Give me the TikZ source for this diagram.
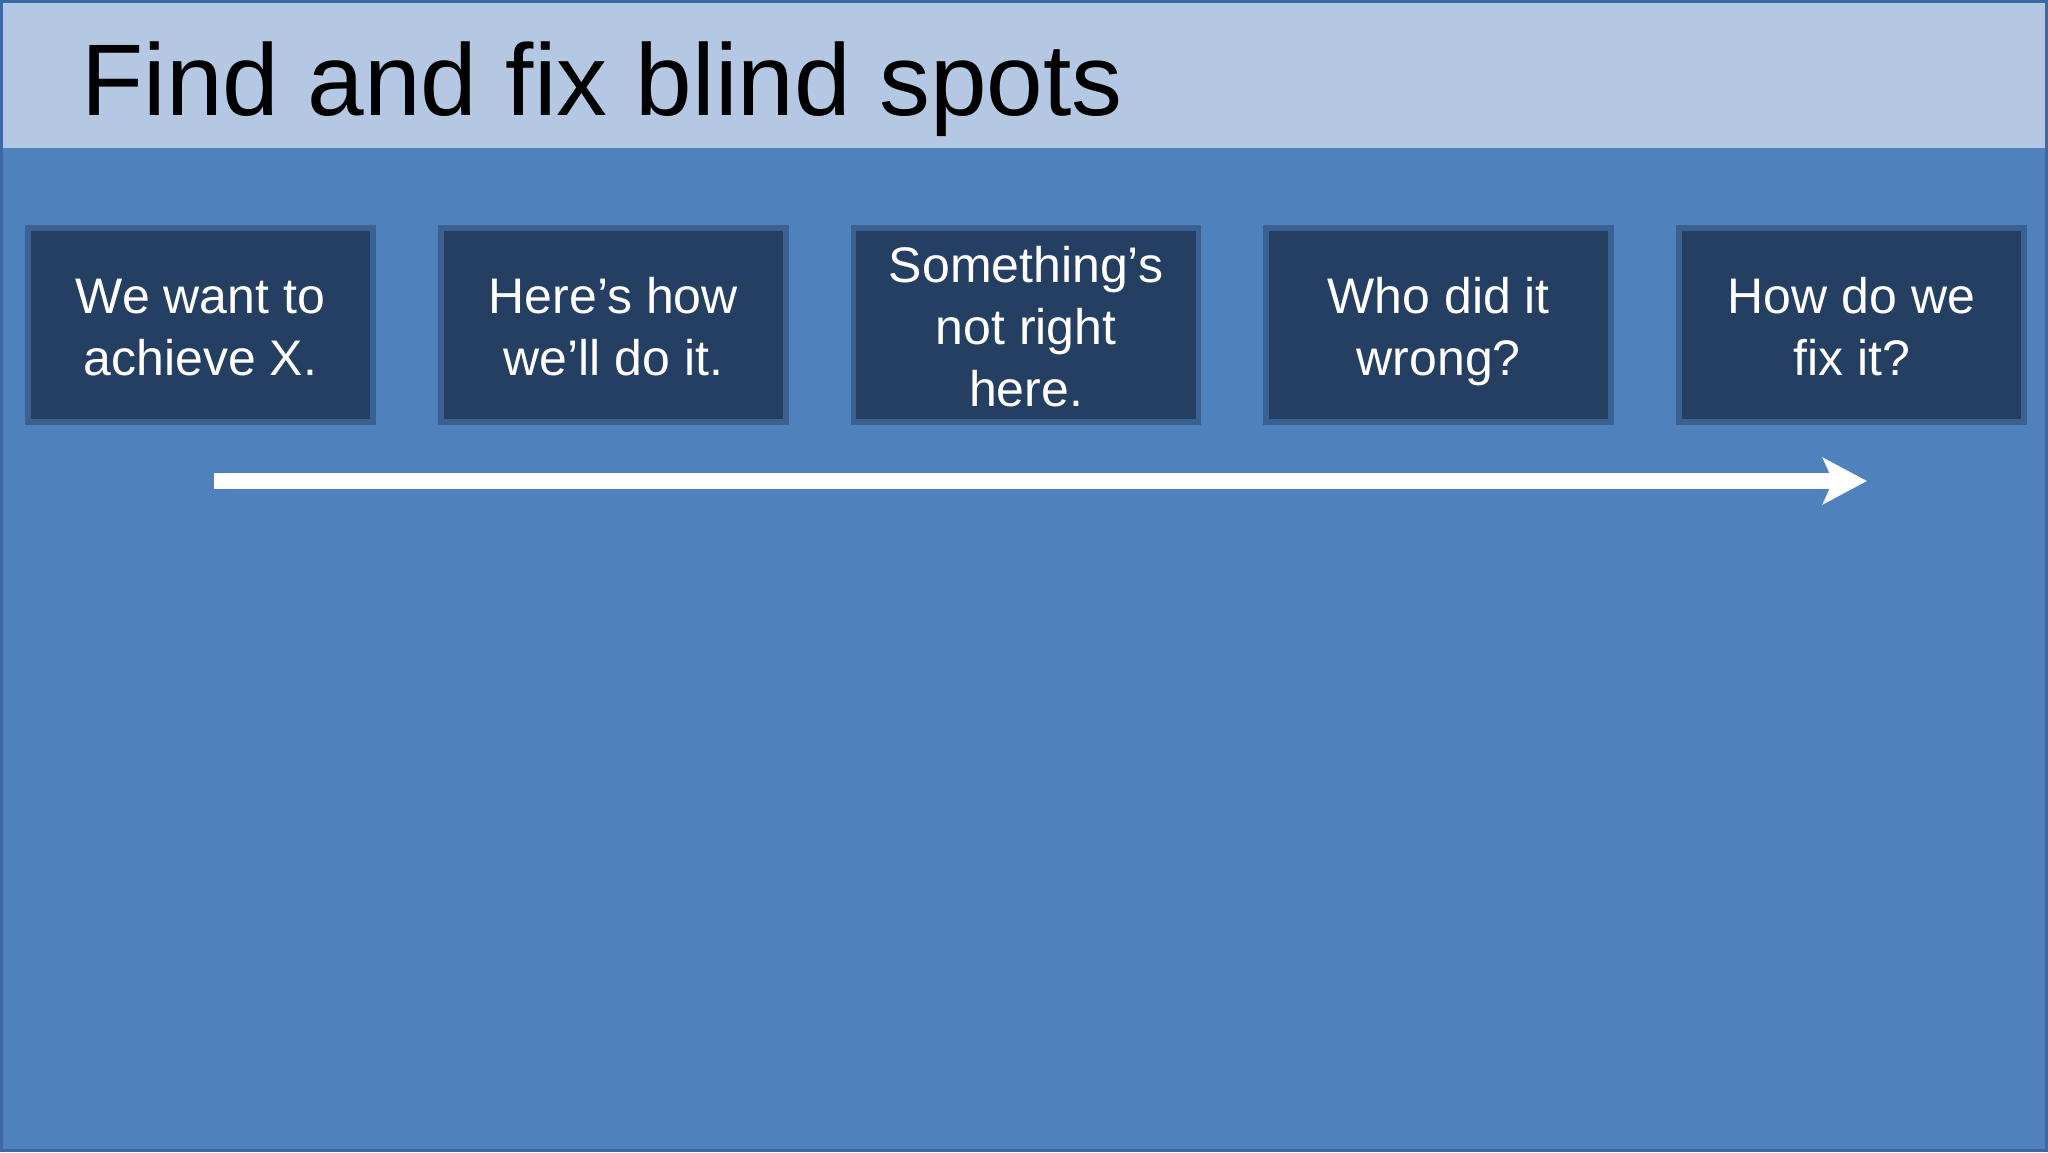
\documentclass[tikz,border=0pt]{standalone}
\usepackage{fontspec}
\setmainfont{Liberation Sans}
\usetikzlibrary{arrows.meta}
\definecolor{slidebg}{HTML}{4F81BD}
\definecolor{titlebg}{HTML}{B4C7E3}
\definecolor{framecol}{HTML}{3C68A3}
\definecolor{boxfill}{HTML}{253F62}
\definecolor{boxline}{HTML}{3A6192}
\newcommand{\firstline}{\rule{0pt}{28.3pt}}
\tikzset{
  stepbox/.style={draw=boxline, fill=boxfill, line width=2.8pt,
    minimum width=172.5pt, minimum height=97pt, inner sep=0pt,
    align=center, text=white, font=\fontsize{25}{31}\selectfont},
  flowarrow/.style={draw=white, line width=8pt,
    -{Stealth[length=22pt,width=23pt,inset=5pt]}}
}
\begin{document}
\begin{tikzpicture}[x=0.5pt,y=-0.5pt]
\useasboundingbox (0,0) rectangle (2048,1152);
\fill[slidebg] (0,0) rectangle (2048,1152);
\fill[titlebg] (0,3) rectangle (2048,148);
\draw[framecol, line width=1.5pt] (1.5,1.5) rectangle (2046.5,1150.5);
\node[anchor=base west, inner sep=0pt, font=\fontsize{50.9}{60}\selectfont] (title) at (81,115) {Find and fix blind spots};
\node[stepbox] (b1) at (200.5,325) {\firstline We want to\\achieve X.\strut};
\node[stepbox] (b2) at (613.25,325) {\firstline Here’s how\\we’ll do it.\strut};
\node[stepbox, inner ysep=-2pt] (b3) at (1026,325) {\firstline Something’s\\not right\\here.\strut};
\node[stepbox] (b4) at (1438.75,325) {\firstline Who did it\\wrong?\strut};
\node[stepbox] (b5) at (1851.5,325) {\firstline How do we\\fix it?\strut};
\coordinate (as) at (214,481);
\coordinate (ae) at (1867,481);
\draw[flowarrow] (as) -- (ae);
\end{tikzpicture}
\end{document}
